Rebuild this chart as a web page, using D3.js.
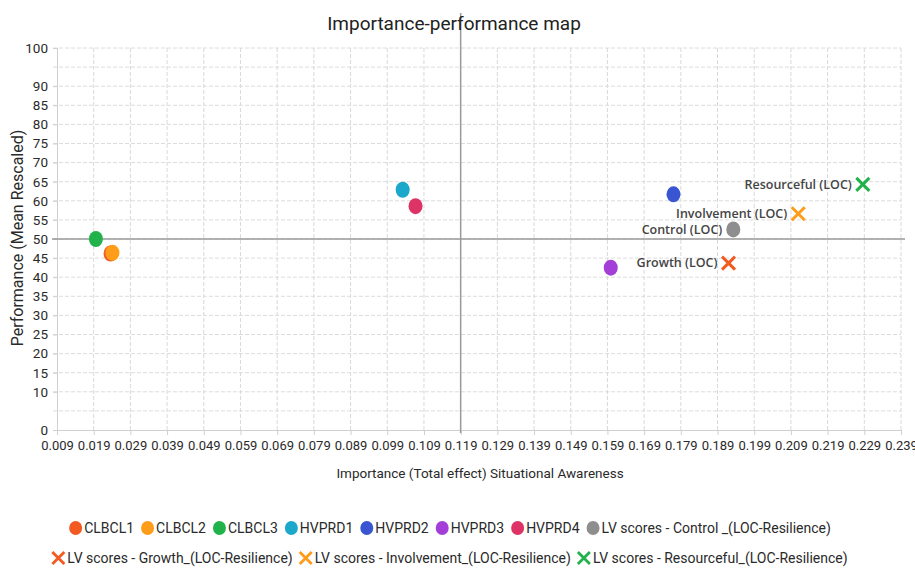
<!DOCTYPE html>
<html>
<head>
<meta charset="utf-8">
<script src="https://cdn.jsdelivr.net/npm/d3@7"></script>
<style>
body{margin:0;background:#fff;}
svg{display:block;}
</style>
</head>
<body>
<svg id="chart" width="915" height="570"></svg>
<script>
// ---- data ----
const pointNames = ["CLBCL1","CLBCL2","CLBCL3","HVPRD1","HVPRD2","HVPRD3","HVPRD4","LV scores - Control _(LOC-Resilience)"];
const pointImportance = [0.0236,0.0241,0.0196,0.1032,0.1770,0.1599,0.1067,0.1933];
const pointPerformance = [46.2,46.4,50.0,62.9,61.7,42.5,58.6,52.5];
const pointColors = ["#f25a22","#ff9c1a","#22b24c","#1ba8cb","#3a55d2","#a33fd8","#dd3366","#8e8e8e"];

const crossNames = ["LV scores - Growth_(LOC-Resilience)","LV scores - Involvement_(LOC-Resilience)","LV scores - Resourceful_(LOC-Resilience)"];
const crossImportance = [0.1920,0.2110,0.2286];
const crossPerformance = [43.7,56.6,64.3];
const crossColors = ["#f25a22","#ff9c1a","#22b24c"];

const annotations = ["Control (LOC)","Growth (LOC)","Involvement (LOC)","Resourceful (LOC)"];
const annotationImportance = [0.1933,0.1920,0.2110,0.2286];
const annotationPerformance = [52.5,43.7,56.6,64.3];

const xTicks = [0.009,0.019,0.029,0.039,0.049,0.059,0.069,0.079,0.089,0.099,0.109,0.119,0.129,0.139,0.149,0.159,0.169,0.179,0.189,0.199,0.209,0.219,0.229,0.239];
const yGrid = [0,5,10,15,20,25,30,35,40,45,50,55,60,65,70,75,80,85,90,95,100];
const yLabels = [0,10,15,20,25,30,35,40,45,50,55,60,65,70,75,80,85,90,100];
const xCross = 0.119, yCross = 50;

// ---- layout ----
const svg = d3.select("#chart");
const x = d3.scaleLinear().domain([0.009,0.239]).range([57,901]);
const y = d3.scaleLinear().domain([0,100]).range([430,48]);
const font = "Roboto, 'Noto Sans', sans-serif";

// grid
const grid = svg.append("g");
grid.selectAll(".vg").data(xTicks.slice(1)).join("line")
  .attr("x1",d=>x(d)).attr("x2",d=>x(d)).attr("y1",y(100)).attr("y2",y(0))
  .attr("stroke","#d9d9d9").attr("stroke-width",1).attr("stroke-dasharray","4,2");
grid.selectAll(".hg").data(yGrid.slice(1)).join("line")
  .attr("x1",53).attr("x2",x(0.239)).attr("y1",d=>y(d)).attr("y2",d=>y(d))
  .attr("stroke","#dcdcdc").attr("stroke-width",1).attr("stroke-dasharray","4,2");

// axes
const xAxis = svg.append("g").attr("transform",`translate(0,${y(0)})`)
  .call(d3.axisBottom(x).tickValues(xTicks).tickFormat(d3.format(".3f")).tickSize(5).tickPadding(6));
xAxis.select(".domain").attr("stroke","#d0d0d0").attr("d",`M53,0.5H${x(0.239)}`);
xAxis.selectAll(".tick line").attr("stroke","#d0d0d0");
xAxis.selectAll("text").attr("font-family",font).attr("font-size",13).attr("fill","#2a2a2a");

const yAxis = svg.append("g").attr("transform",`translate(${x(0.009)},0)`)
  .call(d3.axisLeft(y).tickValues(yLabels).tickFormat(d3.format("d")).tickSize(4).tickPadding(5));
yAxis.select(".domain").attr("stroke","#d0d0d0").attr("d",`M0.5,${y(100)}V${y(0)}`);
yAxis.selectAll(".tick line").attr("stroke","#d0d0d0");
yAxis.selectAll("text").attr("font-family",font).attr("font-size",13.5).attr("fill","#2a2a2a");

// crosshair lines
svg.append("line").attr("x1",52).attr("x2",905).attr("y1",y(yCross)).attr("y2",y(yCross))
  .attr("stroke","#9a9a9a").attr("stroke-width",1.5);
svg.append("line").attr("x1",x(xCross)).attr("x2",x(xCross)).attr("y1",13).attr("y2",433)
  .attr("stroke","#9a9a9a").attr("stroke-width",1.5);

// title & axis titles
svg.append("text").attr("x",454).attr("y",30).attr("text-anchor","middle")
  .attr("font-family",font).attr("font-size",19).attr("fill","#222").text("Importance-performance map");
svg.append("text").attr("x",480).attr("y",478).attr("text-anchor","middle")
  .attr("font-family",font).attr("font-size",13.5).attr("fill","#2a2a2a").text("Importance (Total effect) Situational Awareness");
svg.append("text").attr("transform","translate(23,238) rotate(-90)").attr("text-anchor","middle")
  .attr("font-family",font).attr("font-size",16).attr("fill","#2a2a2a").text("Performance (Mean Rescaled)");

// points
const pts = pointNames.map((n,i)=>({n,x:pointImportance[i],y:pointPerformance[i],c:pointColors[i]}));
svg.append("g").selectAll("ellipse").data(pts).join("ellipse")
  .attr("cx",d=>x(d.x)).attr("cy",d=>y(d.y)).attr("rx",7).attr("ry",8).attr("fill",d=>d.c);

// crosses
function crossPath(s){return `M${-s},${-s}L${s},${s}M${s},${-s}L${-s},${s}`;}
const crs = crossNames.map((n,i)=>({n,x:crossImportance[i],y:crossPerformance[i],c:crossColors[i]}));
svg.append("g").selectAll("path").data(crs).join("path")
  .attr("transform",d=>`translate(${x(d.x)},${y(d.y)})`).attr("d",crossPath(6.5))
  .attr("stroke",d=>d.c).attr("stroke-width",3).attr("fill","none");

// annotations
svg.append("g").selectAll("text").data(annotations).join("text")
  .attr("x",(d,i)=>x(annotationImportance[i])-11).attr("y",(d,i)=>y(annotationPerformance[i]))
  .attr("dy","0.35em").attr("text-anchor","end")
  .attr("font-family","'Open Sans', sans-serif").attr("font-size",12.5).attr("font-weight",600)
  .attr("fill","#444").text(d=>d);

// legend
function legendRow(items, cy){
  const g = svg.append("g");
  let cx = 0;
  items.forEach(it=>{
    const gi = g.append("g");
    if(it.shape==="circle") gi.append("ellipse").attr("cx",6.5).attr("cy",0).attr("rx",6.5).attr("ry",7).attr("fill",it.c);
    else gi.append("path").attr("transform","translate(6,0)").attr("d",crossPath(6)).attr("stroke",it.c).attr("stroke-width",2.8).attr("fill","none");
    const t = gi.append("text").attr("x",15).attr("y",0).attr("dy","0.35em")
      .attr("font-family",font).attr("font-size",14).attr("fill","#2a2a2a").text(it.n);
    const w = 15 + t.node().getComputedTextLength();
    gi.attr("transform",`translate(${cx},0)`);
    cx += w + 7;
  });
  const total = cx - 7;
  g.attr("transform",`translate(${450 - total/2},${cy})`);
}
legendRow(pts.map(d=>({n:d.n,c:d.c,shape:"circle"})), 528);
legendRow(crs.map(d=>({n:d.n,c:d.c,shape:"cross"})), 558);
</script>
</body>
</html>
